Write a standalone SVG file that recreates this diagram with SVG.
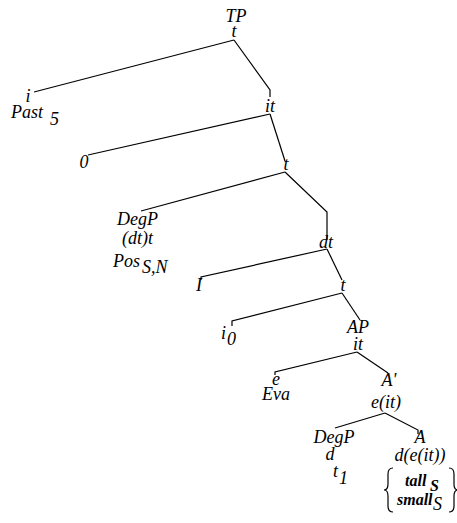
<svg xmlns="http://www.w3.org/2000/svg" width="457" height="523" viewBox="0 0 457 523">
<style>
text{font-family:"Liberation Serif","Times New Roman",serif;font-style:italic;font-size:18px;fill:#000}
.m{text-anchor:middle}
.b{font-weight:bold;font-size:16px}
.e polyline,.br{fill:none;stroke:#000;stroke-width:1.2}
</style>
<rect width="457" height="523" fill="#fff"/>
<g class="e" id="connectors">
<polyline points="234,40 34,92"/>
<polyline points="234,40 270,90 270,97"/>
<polyline points="270,114 88,155"/>
<polyline points="270,114 285,161"/>
<polyline points="285,172 141,211"/>
<polyline points="285,172 327,212 327,240"/>
<polyline points="327,249 201,277 201,280"/>
<polyline points="327,249 342,280"/>
<polyline points="342,293 232,321 232,326"/>
<polyline points="342,293 360,320"/>
<polyline points="357,352 275,372 275,375"/>
<polyline points="357,352 388,373"/>
<polyline points="385,413 335,428"/>
<polyline points="385,413 418,430 418,434"/>
</g>
<g id="n-tp"><text class="m" x="236" y="22">TP</text><text class="m" x="234" y="37">t</text></g>
<g id="n-past"><text class="m" x="28" y="102">i</text><text x="11" y="118">Past</text><text x="50" y="125" font-style="normal">5</text></g>
<g id="n-it1"><text class="m" x="270" y="112">it</text></g>
<g id="n-zero"><text class="m" x="84" y="168">0</text></g>
<g id="n-t2"><text class="m" x="286" y="170">t</text></g>
<g id="n-degp1"><text x="117" y="225" font-size="20">DegP</text><text x="122" y="244">(dt)t</text><text x="113" y="267">Pos</text><text x="142" y="273">S,N</text></g>
<g id="n-dt"><text class="m" x="326" y="248">dt</text></g>
<g id="n-one"><text class="m" x="199" y="291">I</text></g>
<g id="n-t3"><text class="m" x="343" y="291">t</text></g>
<g id="n-i0"><text x="221" y="339">i</text><text x="227" y="345">0</text></g>
<g id="n-ap"><text class="m" x="358" y="333">AP</text><text class="m" x="358" y="350">it</text></g>
<g id="n-eva"><text class="m" x="276" y="385">e</text><text class="m" x="276" y="400">Eva</text></g>
<g id="n-abar"><text class="m" x="389" y="386">A'</text><text class="m" x="386" y="408">e(it)</text></g>
<g id="n-degp2"><text class="m" x="334" y="443">DegP</text><text class="m" x="330" y="460">d</text><text x="333" y="477" font-size="13">t</text><text x="339" y="484">1</text></g>
<g id="n-a"><text class="m" x="420" y="443">A</text><text class="m" x="420" y="461">d(e(it))</text>
<path class="br" d="M393,468 Q388,468 388,474 L388,484 Q388,490 384,490 Q388,490 388,496 L388,506 Q388,512 393,512"/>
<path class="br" d="M449,468 Q454,468 454,474 L454,484 Q454,490 458,490 Q454,490 454,496 L454,506 Q454,512 449,512"/>
<text class="b" x="405" y="486">tall</text><text class="b" x="430" y="491">S</text>
<text class="b" x="397" y="505">small</text><text x="433" y="510" font-size="16">S</text></g>
</svg>
